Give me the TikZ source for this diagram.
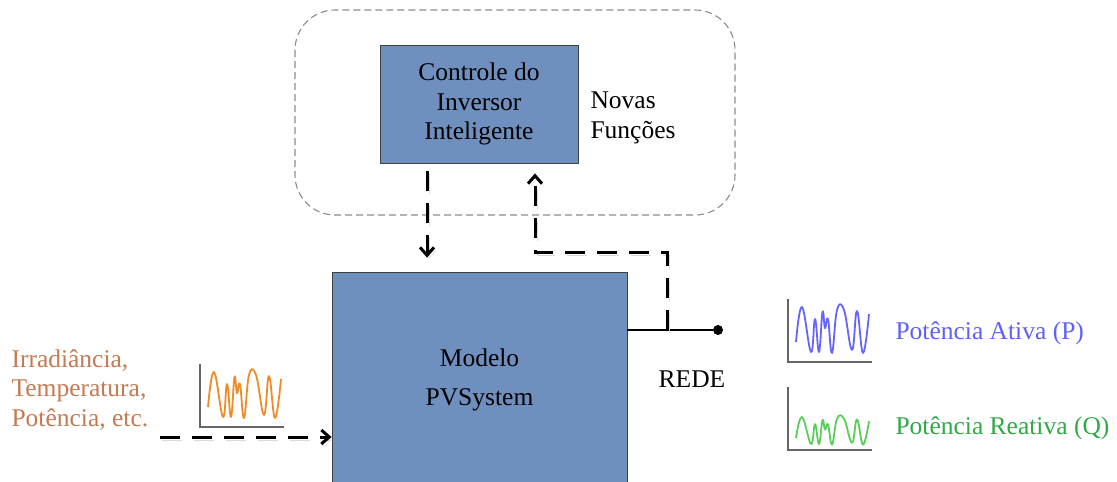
\documentclass[tikz,border=0pt]{standalone}
\usepackage{fontspec}
\setmainfont{Liberation Serif}
\usetikzlibrary{calc, positioning, arrows.meta}

\definecolor{caixaazul}{RGB}{111,143,191}
\definecolor{laranja}{RGB}{240,140,40}
\definecolor{textolaranja}{RGB}{196,122,82}
\definecolor{azulonda}{RGB}{100,100,255}
\definecolor{textoazul}{RGB}{95,95,250}
\definecolor{verdeonda}{RGB}{90,205,90}
\definecolor{textoverde}{RGB}{45,170,70}

% sinal: eixos e forma de onda (origem, cor, escala vertical)
\newcommand{\sinal}[3]{%
    \draw[eixo] (#1) ++(0,-63) -- (#1) -- ++(84,0);
    \draw[#2, onda, shift={(#1)}, yscale=#3] plot[smooth, tension=0.7] coordinates {
        (8,-20) (14,-55) (23,-10) (27,-43) (31,-10) (34.5,-50) (37,-34) (40,-43)
        (44,-9) (49,-52) (56,-52) (64,-12) (69,-51) (75,-9) (81,-48)};
}

\begin{document}
\begin{tikzpicture}[
    x=1pt, y=-1pt,
    font=\fontsize{25.5}{29.5}\selectfont,
    bloco/.style={draw=black!75, line width=0.8pt, fill=caixaazul, align=center, inner sep=0pt},
    seta/.style={-{Straight Barb[length=8pt, width=14pt]}, line width=3pt,
        dash pattern=on 20pt off 12pt,
        preaction={draw=black!15, dash pattern=on 20pt off 12pt,
            transform canvas={shift={(2pt,-3pt)}}}},
    eixo/.style={draw=black!60, line width=1.3pt},
    onda/.style={line width=1.8pt, line join=round}
]
    \useasboundingbox (0,0) rectangle (1117,482);

    % Grupo das novas funcoes
    \draw[black!45, line width=1.1pt, dash pattern=on 7pt off 4pt, rounded corners=40pt]
        (295,10) rectangle (735,215);

    % Blocos
    \node[bloco, minimum width=198, minimum height=118] (controle) at (479,104)
        {Controle do\\Inversor\\Inteligente};
    \node[anchor=west, align=left] (novas) at (587,118) {Novas\\Funções};
    \node[bloco, minimum width=295, minimum height=216] (pvsys) at (479.5,380)
        {Modelo\\[9pt]PVSystem};

    % Rede
    \coordinate (saida) at (pvsys.east |- 0,330);
    \coordinate (juncao) at (667,330);
    \node[circle, fill=black, inner sep=0pt, minimum size=10] (rede) at (718,330) {};
    \node (redetxt) at (692,379) {REDE};
    \draw[line width=2.5pt] (saida) -- (rede);

    % Comunicacao com o controle
    \draw[seta, shorten <=8pt, shorten >=14pt]
        ([xshift=-52]controle.south) -- ([xshift=-52]controle.south |- pvsys.north);
    \draw[seta, shorten >=10pt]
        (juncao) -- ++(0,-78) -| ([xshift=56]controle.south);

    % Entradas
    \node[anchor=west, align=left, text=textolaranja] (param) at (8,390)
        {Irradiância,\\Temperatura,\\Potência, etc.};
    \coordinate (entrada) at (160,437);
    \draw[seta] (entrada) -- (entrada -| pvsys.west);
    \sinal{200,427}{laranja}{1}

    % Saidas
    \sinal{788,362}{azulonda}{1}
    \node[anchor=west, text=textoazul] (ativa) at (892,333) {Potência Ativa (P)};
    \sinal{788,450}{verdeonda}{0.6}
    \node[anchor=west, text=textoverde] (reativa) at (892,428) {Potência Reativa (Q)};

\end{tikzpicture}
\end{document}
